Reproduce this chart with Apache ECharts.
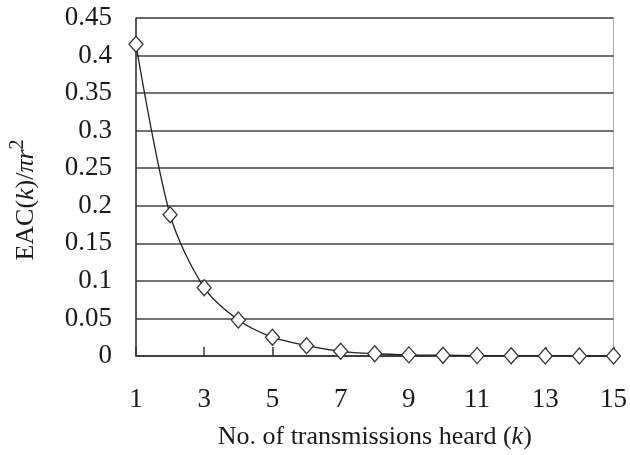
<!DOCTYPE html>
<html>
<head>
<meta charset="utf-8">
<script src="https://cdn.jsdelivr.net/npm/echarts@6/dist/echarts.min.js"></script>
<style>
  html, body { margin: 0; padding: 0; background: #fff; }
  #main { width: 630px; height: 455px; }
</style>
</head>
<body>
<div id="main"></div>
<script>
// k values and EAC(k)/pi r^2
var kValues = [1, 2, 3, 4, 5, 6, 7, 8, 9, 10, 11, 12, 13, 14, 15];
var eacValues = [0.415, 0.188, 0.091, 0.048, 0.025, 0.0137, 0.0062, 0.003, 0.0015, 0.001, 0.0005, 0.0002, 0.0001, 0, 0];

var seriesData = [];
for (var i = 0; i < kValues.length; i++) {
    seriesData.push([kValues[i], eacValues[i]]);
}

var myChart = echarts.init(document.getElementById('main'));
var font = 'Liberation Serif';

option = {
    animation: false,
    grid: {
        left: 132,
        right: 16,
        top: 18,
        bottom: 98,
        show: true,
        borderColor: '#b0b0b0',
        borderWidth: 1
    },
    xAxis: {
        type: 'value',
        min: 1,
        max: 15,
        interval: 2,
        name: 'No. of transmissions heard ({i|k})',
        nameLocation: 'middle',
        nameGap: 68,
        nameTextStyle: {
            fontFamily: font, fontSize: 26, color: '#1a1a1a',
            rich: { i: { fontFamily: font, fontSize: 26, fontStyle: 'italic', color: '#1a1a1a' } }
        },
        axisLine: { show: true, lineStyle: { color: '#333', width: 1.5 } },
        axisTick: { show: true, inside: true, length: 9, lineStyle: { color: '#333', width: 1.5 } },
        axisLabel: { fontFamily: font, fontSize: 27, color: '#1a1a1a', margin: 30 },
        splitLine: { show: false }
    },
    yAxis: {
        type: 'value',
        min: 0,
        max: 0.45,
        interval: 0.05,
        name: '{n|EAC(}{i|k}{n|)/}{i|πr}{s|2}',
        nameLocation: 'middle',
        nameRotate: 90,
        nameGap: 92,
        nameTextStyle: {
            padding: [0, 26, 0, 0],
            rich: {
                n: { fontFamily: font, fontSize: 26, color: '#1a1a1a' },
                i: { fontFamily: font, fontSize: 26, fontStyle: 'italic', color: '#1a1a1a' },
                s: { fontFamily: font, fontSize: 20, color: '#1a1a1a', verticalAlign: 'bottom', padding: [0, 0, 16, 0] }
            }
        },
        axisLine: { show: true, lineStyle: { color: '#333', width: 1.5 } },
        axisTick: { show: false },
        axisLabel: { fontFamily: font, fontSize: 27, color: '#1a1a1a', margin: 24 },
        splitLine: { show: true, lineStyle: { color: '#444', width: 1.5 } }
    },
    series: [{
        type: 'line',
        data: seriesData,
        smooth: 0.3,
        symbol: 'diamond',
        symbolSize: [14, 16],
        lineStyle: { color: '#222', width: 1.3 },
        itemStyle: { color: '#fff', borderColor: '#333', borderWidth: 1.3 }
    }]
};

myChart.setOption(option);
</script>
</body>
</html>
